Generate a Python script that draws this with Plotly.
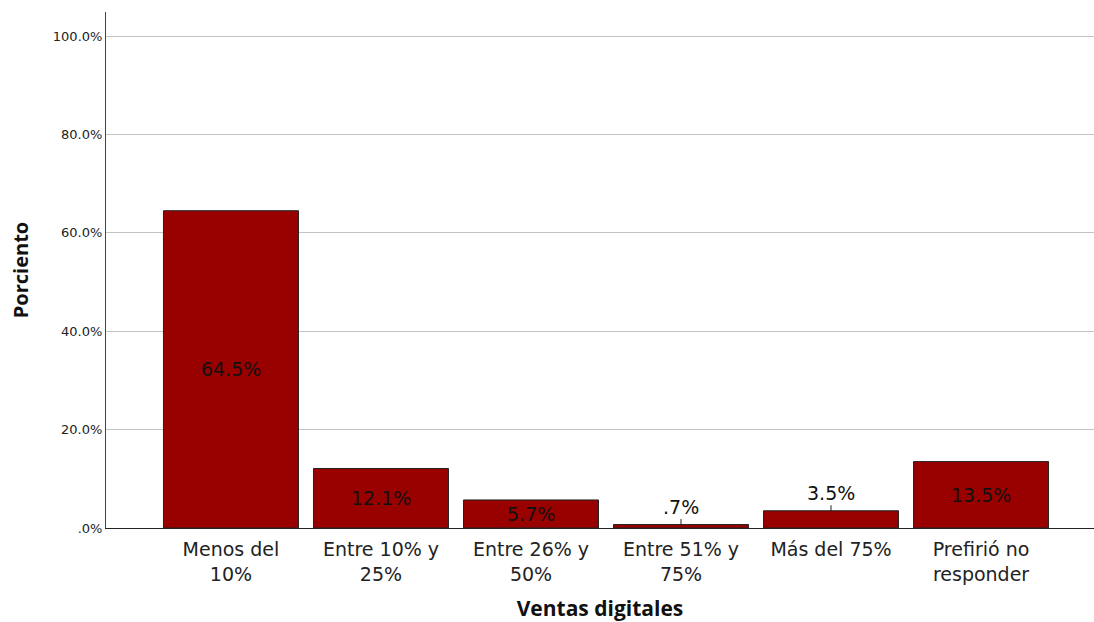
import plotly.graph_objects as go

categorias = ["Menos del<br>10%", "Entre 10% y<br>25%", "Entre 26% y<br>50%",
              "Entre 51% y<br>75%", "Más del 75%", "Prefirió no<br>responder"]
porcentajes = [64.5, 12.1, 5.7, 0.7, 3.5, 13.5]
etiquetas = ["64.5%", "12.1%", "5.7%", ".7%", "3.5%", "13.5%"]
tick_vals = [0, 20, 40, 60, 80, 100]
tick_text = [".0%", "20.0%", "40.0%", "60.0%", "80.0%", "100.0%"]

fig = go.Figure()
fig.add_trace(go.Bar(
    x=list(range(len(categorias))), y=porcentajes, width=0.9,
    marker=dict(color="#990000", line=dict(color="#222222", width=1)),
    hoverinfo="skip",
))

# etiquetas de los valores
anots = []
for i, (v, t) in enumerate(zip(porcentajes, etiquetas)):
    if v < 5:
        anots.append(dict(x=i, y=v, xref="x", yref="y", text=t, showarrow=True,
                          arrowhead=0, arrowwidth=1, arrowcolor="#222222",
                          ax=0, ay=-18, font=dict(size=19, color="#111111",
                                                  family="DejaVu Sans")))
    else:
        anots.append(dict(x=i, y=v / 2, xref="x", yref="y", text=t, showarrow=False,
                          font=dict(size=19, color="#111111", family="DejaVu Sans")))

fig.update_layout(
    width=1094, height=622,
    margin=dict(l=106, r=0, t=12, b=94),
    paper_bgcolor="white", plot_bgcolor="white",
    showlegend=False,
    annotations=anots,
    font=dict(family="DejaVu Sans", color="#222222"),
)
fig.update_xaxes(
    range=[-0.833, 5.753],
    tickvals=list(range(len(categorias))), ticktext=categorias,
    tickfont=dict(size=19, color="#222222"),
    ticklabelstandoff=4,
    showline=True, linecolor="#222222", linewidth=1,
    showgrid=False, zeroline=False, ticks="",
    title=dict(text="<b>Ventas digitales</b>", font=dict(size=21, family="Open Sans", color="#111111"),
               standoff=23),
)
fig.update_yaxes(
    range=[0, 104.9],
    tickvals=tick_vals, ticktext=tick_text,
    tickfont=dict(size=13, color="#222222"),
    showline=True, linecolor="#444444", linewidth=1,
    showgrid=True, gridcolor="#c4c4c4", gridwidth=1,
    zeroline=False, ticks="",
    title=dict(text="<b>Porciento</b>", font=dict(size=20, family="Open Sans", color="#111111"),
               standoff=18),
)

# quitar el margen del body para que la figura ocupe toda la ventana
fig.write_html("out.html", config={"displayModeBar": False},
               post_script="document.body.style.margin='0';document.body.style.overflow='hidden';")
